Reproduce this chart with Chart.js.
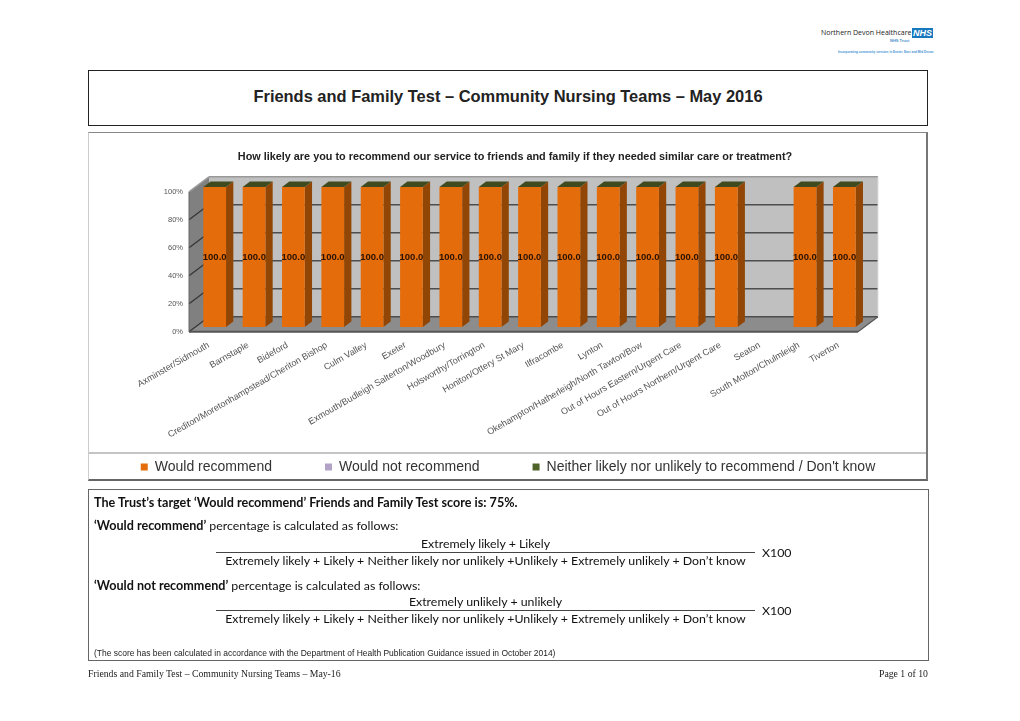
<!DOCTYPE html>
<html>
<head>
<meta charset="utf-8">
<title>Friends and Family Test</title>
<script src="https://cdn.jsdelivr.net/npm/chart.js@4"></script>
<style>
    html, body { margin: 0; padding: 0; background: #fff; }
    body { position: relative; width: 1020px; height: 721px; overflow: hidden; }
    .abs { position: absolute; white-space: nowrap; }
    #titleBox { left: 88px; top: 70px; width: 838px; height: 54px; border: 1px solid #222; text-align: center;
        font: bold 16.45px/50px "Liberation Sans", sans-serif; color: #222; }
    #chartBox { left: 88px; top: 132px; width: 837px; height: 346px; border: 1px solid #ccc; border-top-color: #888;
        border-right: 2px solid #777; border-bottom: 2px solid #666; }
    #legendRule { left: 89px; top: 452px; width: 837px; height: 2px; background: #c4c4c4; }
    canvas { position: absolute; left: 28px; top: 132px; filter: blur(0.4px); }
    #noteBox { left: 88px; top: 489px; width: 839px; height: 170px; border: 1px solid #666; }
    .note { font: 12.35px/16px Lato, sans-serif; color: #111; }
    .note b { font-size: 12.6px; }
    .rule { height: 1px; background: #444; }
    .foot { font: 9.75px "Liberation Serif", serif; color: #222; }
    #nhs { left: 912px; top: 28px; width: 21px; height: 10px; background: #1878be; color: #fff;
        font: italic bold 9px/10px "Liberation Sans", sans-serif; text-align: center; }
</style>
</head>
<body>
<div class="abs" style="left:821px;top:27px;font:7px/12px 'Open Sans',sans-serif;color:#222">Northern Devon Healthcare</div>
<div class="abs" id="nhs">NHS</div>
<div class="abs" style="left:890px;top:38px;font:bold 4px/5px 'Liberation Sans',sans-serif;color:#4a90c8">NHS Trust</div>
<div class="abs" style="left:838px;top:49px;font:bold 3.1px/6px 'Liberation Sans',sans-serif;color:#3f93d6">Incorporating community services in Exeter, East and Mid Devon</div>

<div class="abs" id="titleBox">Friends and Family Test – Community Nursing Teams – May 2016</div>

<div class="abs" id="chartBox"></div>
<div class="abs" id="legendRule"></div>
<canvas id="chart" width="960" height="360"></canvas>

<div class="abs" id="noteBox"></div>
<div class="abs note" style="left:94px;top:495px"><b>The Trust’s target ‘Would recommend’ Friends and Family Test score is: 75%.</b></div>
<div class="abs note" style="left:94px;top:518px"><b>‘Would recommend’</b> percentage is calculated as follows:</div>
<div class="abs note" style="left:216px;width:539px;top:536px;text-align:center">Extremely likely + Likely</div>
<div class="abs rule" style="left:216px;width:539px;top:552px"></div>
<div class="abs note" style="left:216px;width:539px;top:553px;text-align:center">Extremely likely + Likely + Neither likely nor unlikely +Unlikely + Extremely unlikely + Don’t know</div>
<div class="abs note" style="left:762px;top:545px">X100</div>
<div class="abs note" style="left:94px;top:578px"><b>‘Would not recommend’</b> percentage is calculated as follows:</div>
<div class="abs note" style="left:216px;width:539px;top:594px;text-align:center">Extremely unlikely + unlikely</div>
<div class="abs rule" style="left:216px;width:539px;top:610px"></div>
<div class="abs note" style="left:216px;width:539px;top:611px;text-align:center">Extremely likely + Likely + Neither likely nor unlikely +Unlikely + Extremely unlikely + Don’t know</div>
<div class="abs note" style="left:762px;top:603px">X100</div>
<div class="abs" style="left:94px;top:648px;font:8.46px/11px 'Liberation Sans',sans-serif;color:#222">(The score has been calculated in accordance with the Department of Health Publication Guidance issued in October 2014)</div>

<div class="abs foot" style="left:88px;top:668px">Friends and Family Test – Community Nursing Teams – May-16</div>
<div class="abs foot" style="right:92px;top:668px">Page 1 of 10</div>

<script>
// Community nursing teams, May 2016
const teams = ['Axminster/Sidmouth', 'Barnstaple', 'Bideford', 'Crediton/Moretonhampstead/Cheriton Bishop',
    'Culm Valley', 'Exeter', 'Exmouth/Budleigh Salterton/Woodbury', 'Holsworthy/Torrington', 'Honiton/Ottery St Mary',
    'Ilfracombe', 'Lynton', 'Okehampton/Hatherleigh/North Tawton/Bow', 'Out of Hours Eastern/Urgent Care',
    'Out of Hours Northern/Urgent Care', 'Seaton', 'South Molton/Chulmleigh', 'Tiverton'];
const wouldRecommend = [100, 100, 100, 100, 100, 100, 100, 100, 100, 100, 100, 100, 100, 100, null, 100, 100];
const wouldNotRecommend = [0, 0, 0, 0, 0, 0, 0, 0, 0, 0, 0, 0, 0, 0, null, 0, 0];
const neitherOrDontKnow = [0, 0, 0, 0, 0, 0, 0, 0, 0, 0, 0, 0, 0, 0, null, 0, 0];

const chartTitle = 'How likely are you to recommend our service to friends and family if they needed similar care or treatment?';

// fake excel style 3d: walls first, then the bar sides, bars get pushed back into the box
const wallDepth = { x: 20, y: -15 };
const barShift = { x: 6, y: -4.7 };
const barDepth = { x: 7.3, y: -5.5 };

function poly(ctx, pts, fill) {
    ctx.beginPath();
    pts.forEach((p, i) => i ? ctx.lineTo(p[0], p[1]) : ctx.moveTo(p[0], p[1]));
    ctx.closePath();
    ctx.fillStyle = fill;
    ctx.fill();
}

function line(ctx, x1, y1, x2, y2, color, width) {
    ctx.beginPath();
    ctx.moveTo(x1, y1);
    ctx.lineTo(x2, y2);
    ctx.strokeStyle = color;
    ctx.lineWidth = width;
    ctx.stroke();
}

const fake3d = {
    id: 'fake3d',
    afterLayout(chart) {
        // title sits a little right of the legend in the original
        chart.titleBlock.left += 14;
        // long labels run past the axis box, stop them being clipped
        chart.scales.x.bottom = chart.height;
    },
    beforeDatasetsDraw(chart) {
        const { ctx, chartArea: a, scales } = chart;
        const dx = wallDepth.x, dy = wallDepth.y;
        ctx.save();
        poly(ctx, [[a.left + dx, a.top + dy], [a.right + dx, a.top + dy], [a.right + dx, a.bottom + dy], [a.left + dx, a.bottom + dy]], '#c0c0c0');
        poly(ctx, [[a.left, a.top], [a.left + dx, a.top + dy], [a.left + dx, a.bottom + dy], [a.left, a.bottom]], '#808080');
        poly(ctx, [[a.left, a.bottom], [a.left + dx, a.bottom + dy], [a.right + dx, a.bottom + dy], [a.right, a.bottom]], '#8c8c8c');
        scales.y.ticks.forEach(t => {
            const y = scales.y.getPixelForValue(t.value);
            if (t.value === 100) {
                line(ctx, a.left, y, a.left + dx, y + dy, '#999', 1.5);
                line(ctx, a.left + dx, y + dy, a.right + dx, y + dy, '#999', 1.5);
                return;
            }
            line(ctx, a.left, y, a.left + dx, y + dy, '#333', 1.2);
            line(ctx, a.left + dx, y + dy, a.right + dx, y + dy, '#4d4d4d', 1.5);
        });
        line(ctx, a.left, a.top, a.left, a.bottom, '#666', 1);
        line(ctx, a.right + dx, a.top + dy, a.right + dx, a.bottom + dy, '#ddd', 1);
        line(ctx, a.left, a.bottom, a.right, a.bottom, '#555', 2);
        line(ctx, a.right, a.bottom, a.right + dx, a.bottom + dy, '#555', 1.2);
        ctx.restore();

        ctx.save();
        ctx.translate(barShift.x, barShift.y);
        chart.getDatasetMeta(0).data.forEach((bar, i) => {
            if (wouldRecommend[i] === null) return;
            const p = bar.getProps(['x', 'y', 'base', 'width']);
            const l = p.x - p.width / 2, r = p.x + p.width / 2;
            poly(ctx, [[r, p.y], [r + barDepth.x, p.y + barDepth.y], [r + barDepth.x, p.base + barDepth.y], [r, p.base]], '#914605');
            poly(ctx, [[l, p.y], [l + barDepth.x, p.y + barDepth.y], [r + barDepth.x, p.y + barDepth.y], [r, p.y]], '#3f4a1e');
        });
    },
    afterDatasetsDraw(chart) {
        const { ctx } = chart;
        ctx.font = 'bold 9.5px "Liberation Sans", sans-serif';
        ctx.fillStyle = '#2a1200';
        ctx.textAlign = 'center';
        ctx.textBaseline = 'middle';
        chart.getDatasetMeta(0).data.forEach((bar, i) => {
            if (wouldRecommend[i] === null) return;
            const p = bar.getProps(['x', 'y', 'base']);
            ctx.fillText(wouldRecommend[i].toFixed(1), p.x, (p.y + p.base) / 2 + 0.5);
        });
        ctx.restore();
    }
};

new Chart(document.getElementById('chart'), {
    type: 'bar',
    data: {
        labels: teams,
        datasets: [
            { label: 'Would recommend', data: wouldRecommend, backgroundColor: '#e46c0a', barPercentage: 0.577, categoryPercentage: 1 },
            { label: 'Would not recommend', data: wouldNotRecommend, backgroundColor: '#b3a2c7', barPercentage: 0.577, categoryPercentage: 1 },
            { label: "Neither likely nor unlikely to recommend / Don't know", data: neitherOrDontKnow, backgroundColor: '#4f6228', barPercentage: 0.577, categoryPercentage: 1 }
        ]
    },
    plugins: [fake3d],
    options: {
        responsive: false,
        animation: false,
        layout: { padding: { left: 0, right: 0, top: 0, bottom: 8 } },
        plugins: {
            title: {
                display: true,
                text: chartTitle,
                color: '#222',
                font: { family: '"Liberation Sans"', size: 10.85, weight: 'bold' },
                padding: { top: 18, bottom: 28.8 }
            },
            legend: {
                position: 'bottom',
                labels: {
                    boxWidth: 7,
                    boxHeight: 7,
                    padding: 53,
                    color: '#333',
                    font: { family: '"Liberation Sans"', size: 14 }
                }
            },
            tooltip: { enabled: false }
        },
        scales: {
            x: {
                stacked: true,
                border: { display: false },
                grid: { display: false, drawTicks: false },
                ticks: {
                    autoSkip: false,
                    minRotation: 30,
                    maxRotation: 30,
                    padding: 8,
                    color: '#555',
                    font: { family: '"Liberation Sans"', size: 9.1 }
                },
                afterFit(s) { s.height = 75.3; }
            },
            y: {
                stacked: true,
                min: 0,
                max: 100,
                border: { display: false },
                grid: { display: false, drawTicks: false },
                ticks: {
                    stepSize: 20,
                    padding: 6,
                    color: '#555',
                    font: { family: '"Liberation Sans"', size: 7.5 },
                    callback: v => v + '%'
                },
                afterFit(s) { s.width = 161; }
            },
            pad: {
                position: 'right',
                display: true,
                border: { display: false },
                grid: { display: false, drawTicks: false },
                ticks: { display: false },
                afterFit(s) { s.width = 130; }
            }
        }
    }
});
</script>
</body>
</html>
